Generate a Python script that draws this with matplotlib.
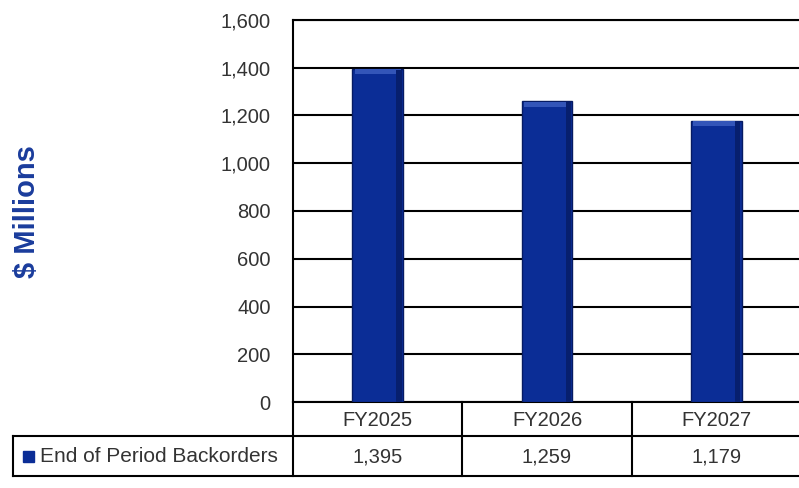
import matplotlib.pyplot as plt
from matplotlib.patches import Rectangle

# data
categories = ['FY2025', 'FY2026', 'FY2027']
backorders = [1395, 1259, 1179]
series_name = 'End of Period Backorders'
yticks = [0, 200, 400, 600, 800, 1000, 1200, 1400, 1600]

plt.rcParams['font.family'] = ['Liberation Sans', 'DejaVu Sans']

W, H = 799, 488
fig = plt.figure(figsize=(W / 100, H / 100), dpi=100)

# plot area in pixels
x0, x1 = 293, 801
y_top, y_bot = 20, 402
ax = fig.add_axes([x0 / W, 1 - y_bot / H, (x1 - x0) / W, (y_bot - y_top) / H])

bar_col = '#0B2D96'
bw = 0.30
xs = range(len(categories))
ax.bar(xs, backorders, width=bw, color=bar_col, edgecolor='#061B63', linewidth=1.0, zorder=3)
# a little bevel: lighter top strip and darker right edge
ax.bar(xs, [20] * len(xs), bottom=[v - 22 for v in backorders], width=bw * 0.9,
       color='#3355B8', linewidth=0, zorder=4)
ax.bar([x + bw * 0.42 for x in xs], [v - 4 for v in backorders], width=bw * 0.1,
       color='#071F6E', linewidth=0, zorder=4)

ax.set_xlim(-0.5, len(categories) - 0.5)
ax.set_ylim(0, 1600)
ax.set_yticks(yticks)
ax.set_yticklabels([f'{v:,}' for v in yticks], fontsize=14.5, color='#333333')
ax.set_xticks([])
ax.yaxis.grid(True, color='black', linewidth=1.5, zorder=0)
ax.tick_params(axis='y', length=0, pad=16)
for s in ax.spines.values():
    s.set_linewidth(1.5)
    s.set_color('black')
ax.spines['right'].set_visible(False)

fig.text(27 / W, 1 - 212 / H, '$ Millions', rotation=90, ha='center', va='center',
         fontsize=21, fontweight='bold', color='#1A3C9C')

# data table under the plot, drawn in figure pixels
def px(x, y):
    return x / W, 1 - y / H

lw = 1.5
r1_top, r1_bot, r2_bot = 402, 436, 476
tab_left = 13
col_edges = [x0 + i * (x1 - x0) / len(categories) for i in range(len(categories) + 1)]

def hline(xa, xb, y):
    fig.add_artist(plt.Line2D([xa / W, xb / W], [1 - y / H, 1 - y / H], color='black', lw=lw))

def vline(x, ya, yb):
    fig.add_artist(plt.Line2D([x / W, x / W], [1 - ya / H, 1 - yb / H], color='black', lw=lw))

hline(tab_left, x1, r1_bot)
hline(tab_left, x1, r2_bot)
vline(tab_left, r1_bot, r2_bot)
for e in col_edges[:-1]:
    vline(e, r1_top, r2_bot)

for i, (c, v) in enumerate(zip(categories, backorders)):
    cx = (col_edges[i] + col_edges[i + 1]) / 2
    fig.text(*px(cx, (r1_top + r1_bot) / 2 + 1), c, ha='center', va='center', fontsize=14.5, color='#333333')
    fig.text(*px(cx, (r1_bot + r2_bot) / 2 + 1), f'{v:,}', ha='center', va='center', fontsize=14.5, color='#333333')

fig.add_artist(Rectangle(px(23, 462), 11 / W, 11 / H, color=bar_col, transform=fig.transFigure))
fig.text(*px(40, (r1_bot + r2_bot) / 2 + 1), series_name, ha='left', va='center', fontsize=15, color='#333333')

fig.savefig('out.png', dpi=100)
